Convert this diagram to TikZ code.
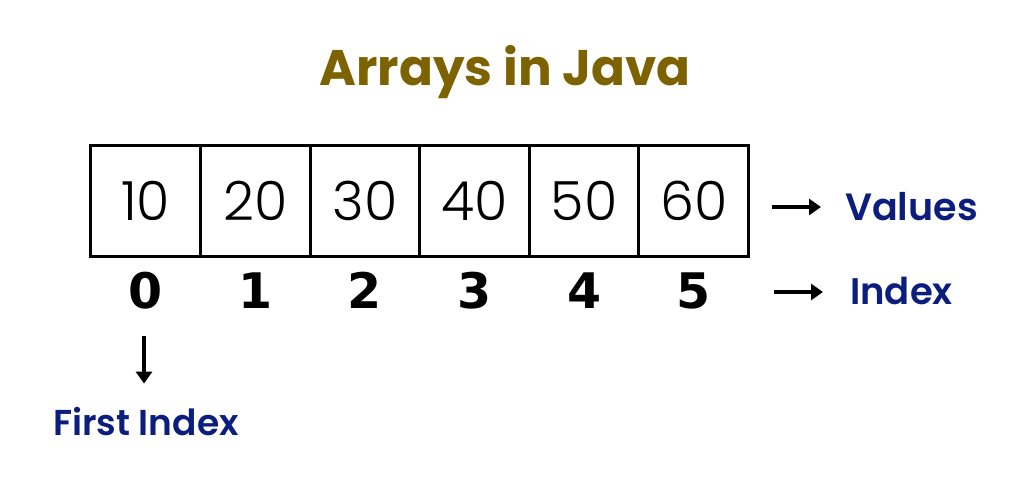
\documentclass[tikz,border=0pt]{standalone}
\usepackage{fontspec}
\setmainfont{Poppins}
\newfontfamily\idxfont{DejaVu Sans}
\newfontfamily\lightfont{Poppins Light}
\newfontfamily\semifont{Poppins SemiBold}
\usetikzlibrary{arrows.meta}
\definecolor{titleolive}{RGB}{125,98,0}
\definecolor{labelnavy}{RGB}{12,30,125}
\begin{document}
\begin{tikzpicture}[x=1pt,y=-1pt,
  cell/.style={draw=black,line width=3pt,minimum width=109.6pt,minimum height=110.3pt,inner sep=0pt,font=\lightfont\fontsize{54}{54}\selectfont},
  idx/.style={inner sep=0pt,anchor=base,font=\idxfont\bfseries\fontsize{49}{49}\selectfont},
  lbl/.style={inner sep=0pt,anchor=base west,text=labelnavy,font=\semifont\fontsize{38}{38}\selectfont},
  arr/.style={line width=4.2pt,-{Triangle[length=12pt,width=16pt]}}]
\useasboundingbox (0,0) rectangle (1024,487);
\node[inner sep=0pt,anchor=base,text=titleolive,font=\bfseries\fontsize{50}{50}\selectfont] (title) at (505,85) {Arrays in Java};
\foreach \i/\v in {0/10,1/20,2/30,3/40,4/50,5/60}{
  \node[cell] (c\i) at ({145.7+109.6*\i},201) {\raisebox{-3pt}{\v}};
  \node[idx] (i\i) at ({145.7+109.6*\i},308) {\i};
}
\node[lbl] (vl) at (845,220) {Values};
\node[lbl,font=\semifont\fontsize{37}{37}\selectfont] (il) at (850,304) {Index};
\node[lbl,font=\semifont\fontsize{36}{36}\selectfont] (fi) at (53,435) {First Index};
\coordinate (va) at (772,207);
\coordinate (ia) at (774,292);
\coordinate (fa) at (144,336);
\draw[arr,shorten >=24pt] (va) -- (va -| vl.west);
\draw[arr,shorten >=27pt] (ia) -- (ia -| il.west);
\draw[arr,shorten >=23pt] (fa) -- (fa |- fi.north);
\end{tikzpicture}
\end{document}
